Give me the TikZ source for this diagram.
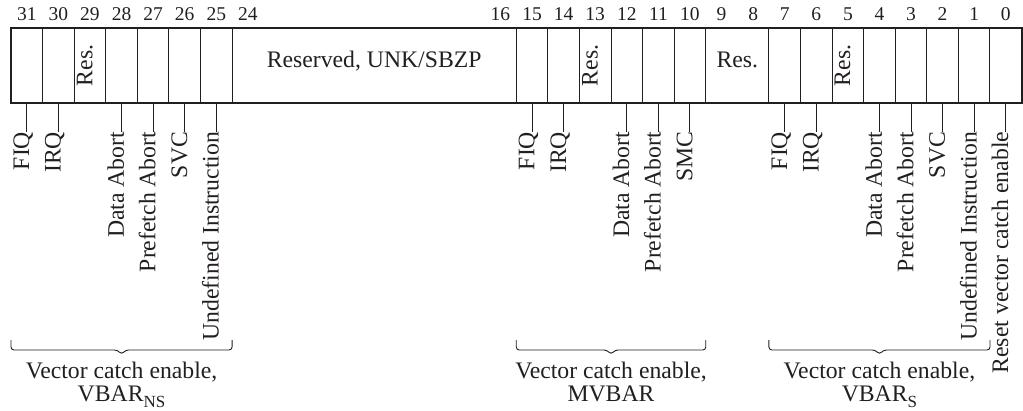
\documentclass[tikz,border=0pt]{standalone}
\usepackage{fontspec}
\setmainfont{Liberation Serif}
\definecolor{ink}{RGB}{35,31,32}
\newcommand\subtxt[1]{\raisebox{-5.5pt}{\fontsize{17}{17}\selectfont #1}}
\begin{document}
\begin{tikzpicture}[x=1pt,y=1pt,
  mainfont/.style={font=\fontsize{23.7}{23.7}\selectfont},
  bitno/.style={anchor=base,inner sep=0pt,font=\fontsize{19.5}{19.5}\selectfont,text=ink},
  celltxt/.style={mainfont,inner sep=0pt,text height=0.69em,text depth=0.22em,text=ink},
  cellv/.style={celltxt,rotate=90},
  lbl/.style={celltxt,rotate=90,anchor=east},
  leader/.style={draw=ink,line width=1pt},
  divider/.style={draw=ink,line width=1pt},
  outer/.style={draw=ink,line width=2.2pt},
  grpbrace/.style={draw=ink,line width=0.9pt,rounded corners=3pt},
  grptxt/.style={mainfont,align=center,anchor=base,inner sep=0pt,text=ink}]
\useasboundingbox (0,0) rectangle (1023,-410);
\def\w{31.58}
% bit numbers
\foreach \b in {31,30,...,24,16,15,...,0}{
  \pgfmathsetmacro\cx{11+(31.5-\b)*\w}
  \node[bitno] (n\b) at (\cx,-20.7) {\b};
}
% register outline and dividers
\draw[outer] (11,-28.3) rectangle (1021.7,-102.7);
\foreach \k in {1,2,3,4,5,6,7,16,17,18,19,20,21,22,24,25,26,27,28,29,30,31}{
  \pgfmathsetmacro\xk{11+\k*\w}
  \draw[divider] (\xk,-28.3) -- (\xk,-102.7);
}
% cell texts
\foreach \b in {29,13,5}{
  \pgfmathsetmacro\cx{11+(31.5-\b)*\w}
  \node[cellv] (res\b) at (\cx,-65.5) {Res.};
}
\pgfmathsetmacro\cx{11+11.5*\w}
\node[celltxt] (rsv) at (\cx,-65.5) {Reserved, UNK/SBZP};
\pgfmathsetmacro\cx{11+23*\w}
\node[celltxt] (res98) at (\cx,-65.5) {Res.};
% leaders and labels
\foreach \b/\t in {31/FIQ,30/IRQ,28/Data Abort,27/Prefetch Abort,26/SVC,25/Undefined Instruction,
  15/FIQ,14/IRQ,12/Data Abort,11/Prefetch Abort,10/SMC,
  7/FIQ,6/IRQ,4/Data Abort,3/Prefetch Abort,2/SVC,1/Undefined Instruction,0/Reset vector catch enable}{
  \pgfmathsetmacro\cx{11+(31.5-\b)*\w}
  \coordinate (c\b) at (\cx,-102.7);
  \node[lbl] (l\b) at (\cx,-131.7) {\t};
  \draw[leader] (c\b) -- (l\b.east);
}
% braces
\foreach \g/\l/\r in {NS/0/7,MV/16/22,S/24/31}{
  \pgfmathsetmacro\xl{11+\l*\w}
  \pgfmathsetmacro\xr{11+\r*\w}
  \pgfmathsetmacro\xm{(\xl+\xr)/2}
  \coordinate (bl\g) at (\xl,-340);
  \coordinate (br\g) at (\xr,-340);
  \coordinate (bt\g) at (\xm,-354.5);
  \draw[grpbrace] (bl\g) -- ++(0,-10) -- ([xshift=-4pt,yshift=4.5pt]bt\g) -- (bt\g) -- ([xshift=4pt,yshift=4.5pt]bt\g) -- (\xr,-350) -- (br\g);
}
\node[grptxt] (tNS) at ([yshift=-47.2pt]btNS) {Vector catch enable,\\VBAR\subtxt{NS}};
\node[grptxt] (tMV) at ([yshift=-47.2pt]btMV) {Vector catch enable,\\MVBAR};
\node[grptxt] (tS) at ([yshift=-47.2pt]btS) {Vector catch enable,\\VBAR\subtxt{S}};
\end{tikzpicture}
\end{document}
